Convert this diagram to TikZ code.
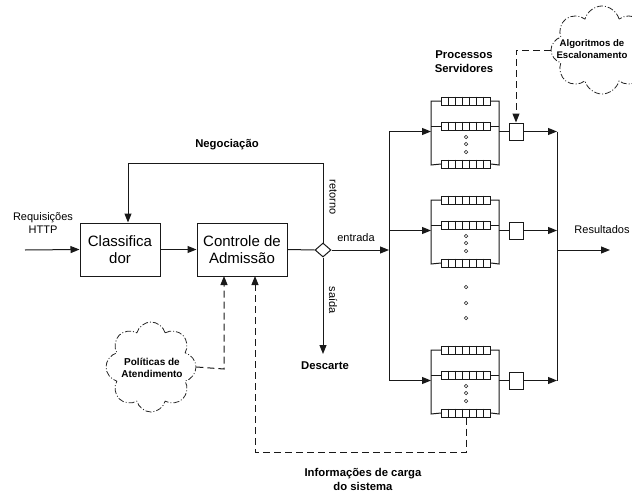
\documentclass[tikz,border=0pt]{standalone}
\usepackage{fontspec}
\setmainfont{Liberation Sans}
\usetikzlibrary{shapes.geometric,shapes.symbols,arrows.meta}
\begin{document}
\begin{tikzpicture}[x=1pt,y=-1pt,
  ln/.style={line width=1pt,draw=black!90},
  arr/.style={ln,-{Triangle[length=9pt,width=7pt]}},
  dsh/.style={ln,dash pattern=on 7pt off 4pt},
  darr/.style={dsh,-{Triangle[length=9pt,width=7pt]}},
  bigbox/.style={ln,rectangle,minimum height=53pt,align=center,font=\fontsize{15}{17}\selectfont,inner sep=0pt},
  lbl/.style={font=\fontsize{11}{13}\selectfont,inner sep=0pt},
  blbl/.style={font=\bfseries\fontsize{11.3}{14}\selectfont,inner sep=0pt,align=center},
  cl/.style={cloud,cloud puffs=8,draw=black!85,line width=0.8pt,dash pattern=on 6pt off 2pt on 1pt off 2pt,inner sep=0pt},
  cltext/.style={align=center,font=\bfseries\fontsize{10}{12}\selectfont,inner sep=0pt},
  queuebox/.style={ln,rectangle,minimum width=49pt,minimum height=8pt,inner sep=0pt},
  sq/.style={ln,rectangle,minimum width=14pt,minimum height=17pt,inner sep=0pt},
  dot/.style={circle,draw=black!80,line width=0.7pt,inner sep=0pt,minimum size=3.5pt}
]
\useasboundingbox (0,0) rectangle (632,498);
\clip (0,0) rectangle (632,498);

% main boxes
\node[bigbox,minimum width=80pt] (cls) at (120,249.5) {Classifica\\dor};
\node[bigbox,minimum width=90pt] (ctl) at (242,249.5) {Controle de\\Admiss\~ao};
\node[diamond,ln,minimum width=16pt,minimum height=14pt,inner sep=0pt,aspect=1.15] (dia) at (323,250) {};
\coordinate (in) at (25,250);
\node[lbl,align=center] (req) at (43,223) {Requisi\c c\~oes\\HTTP};

\draw[arr] (in) -- (cls.west);
\draw[arr] (cls.east) -- (ctl.west);
\draw[ln] (ctl.east) -- (dia.west);

% negotiation
\coordinate (ntop) at (323,163);
\coordinate (nleft) at (128,163);
\draw[arr] (dia.north) -- (ntop) -- (nleft) -- ([xshift=8pt]cls.north);
\node[blbl] (neg) at (227,145) {Negocia\c c\~ao};
\node[lbl,rotate=-90] (ret) at (333,197) {retorno};

% discard
\node[blbl] (desc) at (325,366) {Descarte};
\coordinate (dend) at (323,354);
\draw[arr] (dia.south) -- (dend);
\node[lbl,rotate=-90] (sai) at (333,300) {sa\'ida};

% entrada
\coordinate (dist) at (389,250);
\draw[arr] (dia.east) -- (dist);
\node[lbl] (ent) at (356,238) {entrada};
\coordinate (dtop) at (389,131.5);
\coordinate (dbot) at (389,381);
\draw[ln] (dtop) -- (dbot);

% collector
\coordinate (ctop) at (557,131.5);
\coordinate (cbot) at (557,381);
\coordinate (cout) at (557,250);
\coordinate (res) at (610,250);
\draw[ln] (ctop) -- (cbot);
\draw[arr] (cout) -- (res);
\node[lbl] (resl) at (602,230) {Resultados};

% server groups
\foreach \g/\t in {1/100,2/199,3/349}{
  \pgfmathsetmacro{\mid}{\t+31.5}
  \node[queuebox] (q\g a) at (466,\t+1) {};
  \node[queuebox] (q\g b) at (466,\t+26) {};
  \node[queuebox] (q\g c) at (466,\t+64) {};
  \foreach \q in {a,b,c}{
    \foreach \k in {1,...,6}{
      \draw[ln] ([xshift=\k*7pt]q\g\q.north west) -- ([xshift=\k*7pt]q\g\q.south west);
    }
  }
  \node[dot] (d\g a) at (466,\t+37) {};
  \node[dot] (d\g b) at (466,\t+44) {};
  \node[dot] (d\g c) at (466,\t+52) {};
  \coordinate (bl\g) at (431,\mid);
  \coordinate (br\g) at (499,\mid);
  \draw[ln] (q\g a.west) -- (431,\t+1) -- (431,\t+65) -- (q\g c.west);
  \draw[ln] (q\g b.west) -- (431,\t+26);
  \draw[ln] (q\g a.east) -- (499,\t+1) -- (499,\t+65) -- (q\g c.east);
  \draw[ln] (q\g b.east) -- (499,\t+26);
  \node[sq] (s\g) at (516,\mid) {};
  \draw[ln] (br\g) -- (s\g.west);
  \draw[arr] (s\g.east) -- (557,\mid);
  \draw[arr] (389,\mid) -- (bl\g);
}
\node[dot] (v1) at (466,287) {};
\node[dot] (v2) at (466,303) {};
\node[dot] (v3) at (466,318) {};

\node[blbl] (proc) at (464,62) {Processos\\Servidores};

% clouds
\node[cl,minimum width=102pt,minimum height=88pt] (alg) at (602,50) {};
\node[cltext,font=\bfseries\fontsize{9.6}{12}\selectfont] (algt) at (592,49) {Algoritmos de\\Escalonamento};
\node[cl,minimum width=90pt,minimum height=90pt] (pol) at (151,367) {};
\node[cltext] (polt) at (152,368) {Pol\'iticas de\\Atendimento};

\coordinate (ak) at (516,50);
\draw[darr] (alg.west) -- (ak) -- (s1.north);

\coordinate (pk) at (224,369);
\draw[darr] (pol.east) -- (pk) -- (224,276);

\coordinate (ib) at (466,452);
\coordinate (il) at (255,452);
\draw[darr] (q3c.south) -- (ib) -- (il) -- (255,276);
\node[blbl] (inf) at (363,479) {Informa\c c\~oes de carga\\do sistema};
\end{tikzpicture}
\end{document}
